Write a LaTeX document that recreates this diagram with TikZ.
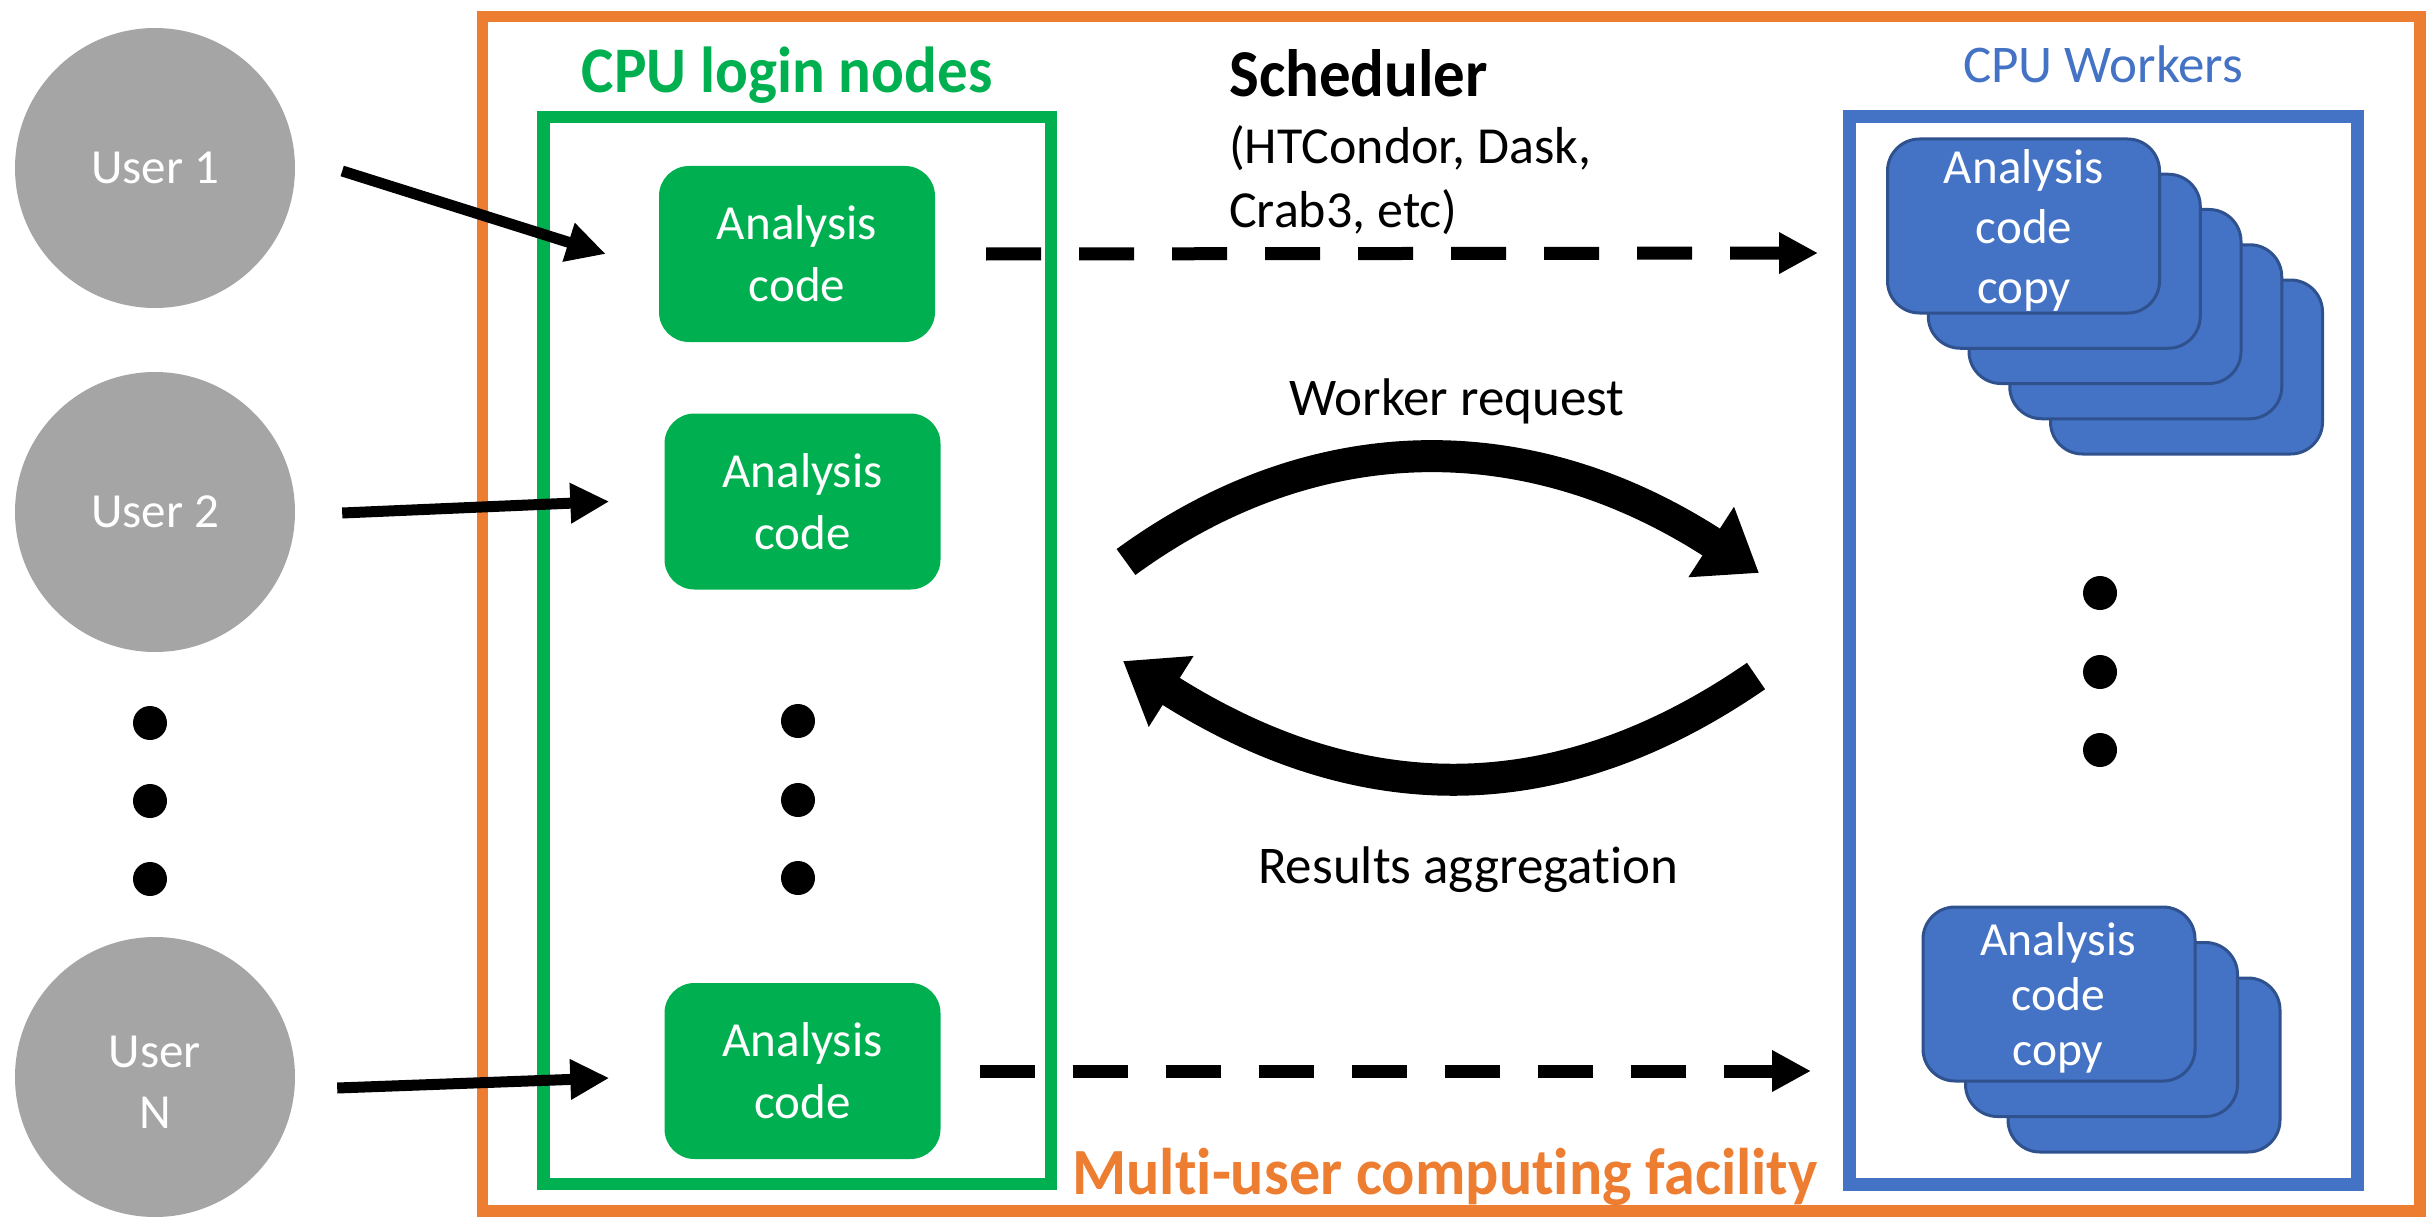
\documentclass[tikz,border=0pt]{standalone}
\usepackage{fontspec}
\setmainfont{Carlito}[Ligatures=NoCommon, BoldFeatures={FakeStretch=0.94}]
\usetikzlibrary{arrows.meta}

\definecolor{facility}{HTML}{ED7D31}
\definecolor{logingreen}{HTML}{00B050}
\definecolor{workerblue}{HTML}{4472C4}
\definecolor{workeredge}{HTML}{2F528F}
\definecolor{usergray}{HTML}{A5A5A5}

\begin{document}
\begin{tikzpicture}[x=1pt,y=-1pt,
  userc/.style={circle, fill=usergray, minimum size=280pt, inner sep=0pt,
    text=white, align=center, font=\fontsize{49}{61}\selectfont},
  codebox/.style={rounded corners=30pt, fill=logingreen, minimum width=276pt,
    minimum height=176pt, inner sep=0pt, text=white, align=center,
    font=\fontsize{49}{62}\selectfont},
  copybox/.style={rounded corners=32pt, fill=workerblue, draw=workeredge,
    line width=3pt, minimum width=272pt, minimum height=174pt, inner sep=0pt},
  copytext/.style={inner sep=0pt, text=white, align=center, anchor=base},
  dotc/.style={circle, fill=black, minimum size=34pt, inner sep=0pt},
  feed/.style={line width=11pt, -{Triangle[length=39pt,width=38pt]}},
  submit/.style={line width=13pt, dash pattern=on 55pt off 38pt,
    -{Triangle[length=39pt,width=39pt]}},
  bigarc/.style={line width=32pt, -{Triangle[length=57pt,width=80pt]}},
  lbl/.style={inner sep=0pt, font=\fontsize{53}{64}\selectfont}
]
\useasboundingbox (0,0) rectangle (2430,1217);

% frames
\draw[facility, line width=11.5pt] (482.5,16.5) rectangle (2420,1211);
\draw[logingreen, line width=12.5pt] (543.5,117) rectangle (1051,1184);
\draw[workerblue, line width=13pt] (1849.5,117) rectangle (2357,1184);

% headings
\node[lbl, anchor=base, text=logingreen, font=\bfseries\fontsize{65}{78}\selectfont]
  (hlogin) at (787,93) {CPU login nodes};
\node[lbl, anchor=base west, font=\bfseries\fontsize{67}{80}\selectfont]
  (hsched) at (1229,97) {Scheduler};
\node[lbl, anchor=base west, font=\fontsize{52}{64}\selectfont, align=left]
  (hschedsub) at (1229,227) {(HTCondor, Dask,\\Crab3, etc)};
\node[lbl, anchor=base, text=workerblue]
  (hworkers) at (2103,83) {CPU Workers};
\node[lbl, anchor=base, text=facility, font=\bfseries\fontsize{66}{80}\selectfont]
  (hfac) at (1445,1194) {Multi-user computing facility};

% users
\node[userc] (u1) at (155,168) {User 1};
\node[userc] (u2) at (155,512) {User 2};
\node[userc] (uN) at (155,1077) {};
\node[copytext, font=\fontsize{49}{61}\selectfont] (uNt) at (155,1128) {User\\N};
\node[dotc] (ld1) at (150,723) {};
\node[dotc] (ld2) at (150,801) {};
\node[dotc] (ld3) at (150,879) {};

% login nodes
\node[codebox] (c1) at (797,254) {Analysis\\code};
\node[codebox] (c2) at (802.5,501.5) {Analysis\\code};
\node[codebox] (c3) at (802.5,1071) {Analysis\\code};
\node[dotc] (md1) at (798,721) {};
\node[dotc] (md2) at (798,800) {};
\node[dotc] (md3) at (798,878) {};

% users to login nodes
\draw[feed] ([xshift=47pt,yshift=-3pt]u1.east) -- ([xshift=-53pt]c1.west);
\draw[feed] ([xshift=47pt,yshift=-1pt]u2.east) -- ([xshift=-55pt]c2.west);
\draw[feed] ([xshift=42pt,yshift=-11pt]uN.east) -- ([xshift=-55pt,yshift=-7pt]c3.west);

% worker stacks, back to front
\foreach \k in {4,3,2,1} {
  \node[copybox] (wa\k) at ({2023.5+40.75*\k},{226+35.25*\k}) {};
}
\node[copybox] (wa0) at (2023.5,226) {};
\node[copytext, font=\fontsize{49}{60}\selectfont] (wa0t) at (2024,303) {Analysis\\code\\copy};
\foreach \k in {2,1} {
  \node[copybox] (wb\k) at ({2059+42.5*\k},{994+35.5*\k}) {};
}
\node[copybox] (wb0) at (2059,994) {};
\node[copytext, font=\fontsize{47.5}{55}\selectfont] (wb0t) at (2058,1065) {Analysis\\code\\copy};
\node[dotc] (rd1) at (2100,593) {};
\node[dotc] (rd2) at (2100,672) {};
\node[dotc] (rd3) at (2100,750) {};

% job submission
\coordinate (s1) at (1818,253);
\coordinate (s2) at (1811,1071);
\draw[submit] ([xshift=51pt]c1.east) -- (s1);
\draw[submit] ([xshift=39pt]c3.east) -- (s2);

% request / results loop
\coordinate (reqA) at (1126,562);
\coordinate (reqB) at (1759,573);
\coordinate (resA) at (1756,676);
\coordinate (resB) at (1123,661);
\draw[bigarc] (reqA) .. controls (1315,424) and (1529,424) .. (reqB);
\draw[bigarc] (resA) .. controls (1559,812) and (1362,812) .. (resB);
\node[lbl, anchor=base] (lreq) at (1457,415) {Worker request};
\node[lbl, anchor=base] (lres) at (1468,883) {Results aggregation};
\end{tikzpicture}
\end{document}
